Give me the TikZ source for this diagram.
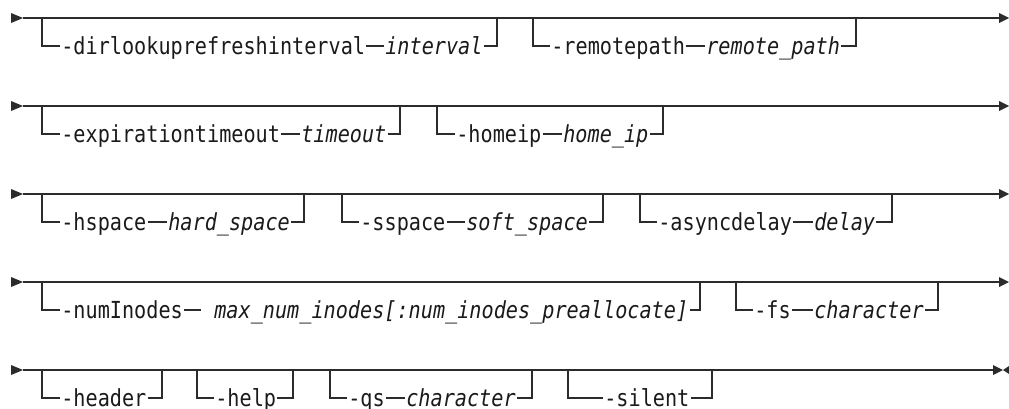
\documentclass[tikz,border=0pt]{standalone}
\usepackage{fontspec}
\newfontfamily\diagfont[FakeStretch=0.86,ItalicFont={DejaVu Sans Mono Oblique}]{DejaVu Sans Mono}
\usetikzlibrary{arrows.meta}
\definecolor{ink}{HTML}{1A1A1A}
\definecolor{rule}{HTML}{2B2B2B}
\tikzset{
  ln/.style={draw=rule, line width=0.95pt},
  kw/.style={inner xsep=0.8pt, inner ysep=0pt, text height=12.9pt, text depth=0.5pt,
             font=\diagfont\fontsize{17.6pt}{20pt}\selectfont, text=ink, anchor=west},
  var/.style={kw, font=\diagfont\itshape\fontsize{17.6pt}{20pt}\selectfont},
  pics/startmark/.style={code={\fill[rule] (-12,-5) -- (0,0) -- (-12,5) -- cycle;}},
  pics/endmark/.style={code={\fill[rule] (-10,-5) -- (0,0) -- (-10,5) -- cycle;}},
  pics/backmark/.style={code={\fill[rule] (6,-4) -- (0,0) -- (6,4) -- cycle;}},
}
% #1 name, #2 main-line y, #3 left x, #4 right x, #5 keyword x, #6 keyword, #7 variable x, #8 variable
\newcommand\optkv[8]{%
  \coordinate (#1-a) at (#3,#2);
  \coordinate (#1-b) at (#4,#2);
  \node[kw] (#1-k) at ({#5},{#2+28}) {#6};
  \node[var] (#1-v) at ({#7},{#2+28}) {#8};
  \draw[ln] (#1-a) |- (#1-k.west);
  \draw[ln] (#1-k.east) -- (#1-v.west);
  \draw[ln] (#1-v.east) -| (#1-b);
}
% #1 name, #2 main-line y, #3 left x, #4 right x, #5 keyword x, #6 keyword
\newcommand\optk[6]{%
  \coordinate (#1-a) at (#3,#2);
  \coordinate (#1-b) at (#4,#2);
  \node[kw] (#1-k) at ({#5},{#2+28}) {#6};
  \draw[ln] (#1-a) |- (#1-k.west);
  \draw[ln] (#1-k.east) -| (#1-b);
}
\begin{document}
\begin{tikzpicture}[x=0.75pt,y=-0.75pt]
\useasboundingbox (0,0) rectangle (1009,408);

% main lines
\foreach \r/\y in {1/18,2/106,3/194,4/282}{
  \coordinate (m\r-s) at (23,\y);
  \coordinate (m\r-e) at (1009,\y);
  \draw[ln] (m\r-s) -- ([xshift=-7.5pt]m\r-e);
  \pic at (m\r-s) {startmark};
  \pic at (m\r-e) {endmark};
}
\coordinate (m5-s) at (23,370);
\coordinate (m5-e) at (1003,370);
\draw[ln] (m5-s) -- ([xshift=-7.5pt]m5-e);
\pic at (m5-s) {startmark};
\pic at (m5-e) {endmark};
\pic at (m5-e) {backmark};

% row 1
\optkv{r1b1}{18}{42}{497}{60}{-dirlookuprefreshinterval}{384}{interval}
\optkv{r1b2}{18}{533}{856}{550}{-remotepath}{705}{remote\_path}
% row 2
\optkv{r2b1}{106}{42}{400}{60}{-expirationtimeout}{300}{timeout}
\optkv{r2b2}{106}{437}{663}{455}{-homeip}{562}{home\_ip}
% row 3
\optkv{r3b1}{194}{42}{304}{60}{-hspace}{167}{hard\_space}
\optkv{r3b2}{194}{342}{603}{359}{-sspace}{465}{soft\_space}
\optkv{r3b3}{194}{640}{892}{657}{-asyncdelay}{813}{delay}
% row 4
\optkv{r4b1}{282}{42}{700}{60}{-numInodes}{201}{\hspace*{9pt}max\_num\_inodes[:num\_inodes\_preallocate]}
\optkv{r4b2}{282}{736}{938}{753}{-fs}{813}{character}
% row 5
\optk{r5b1}{370}{42}{162}{60}{-header}
\optk{r5b2}{370}{197}{293}{214}{-help}
\optkv{r5b3}{370}{330}{532}{347}{-qs}{405}{character}
\optk{r5b4}{370}{568}{712}{603}{-silent}
\coordinate (t1) at (718,370);
\coordinate (t2) at (742,370);
\draw[rule, line width=2.1pt] (t1) -- (t2);
\end{tikzpicture}
\end{document}
